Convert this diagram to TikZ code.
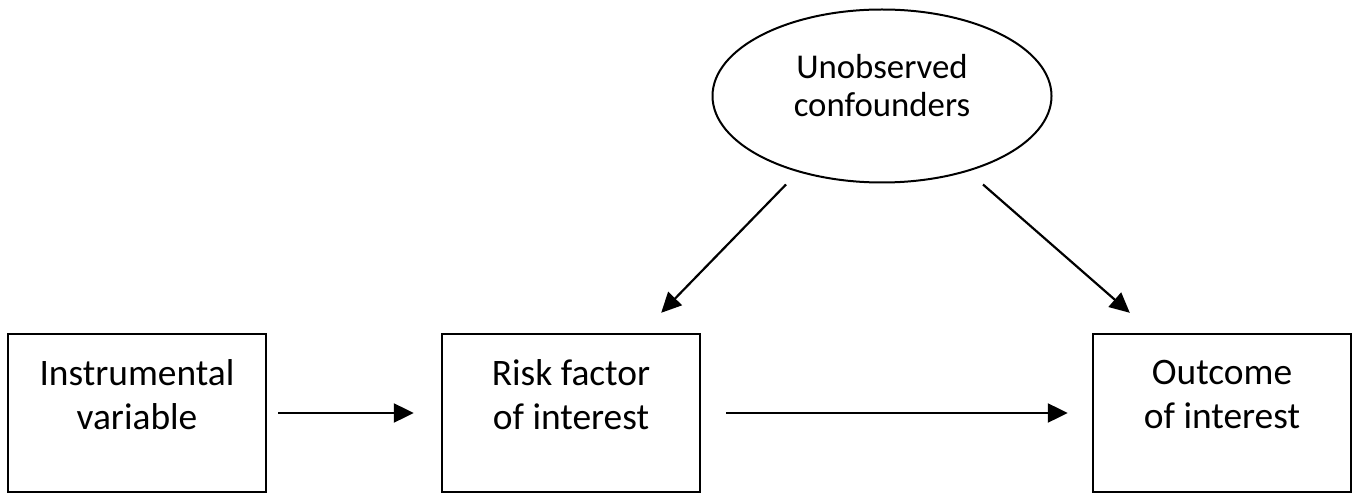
\documentclass[tikz,border=0pt]{standalone}
\usepackage{fontspec}
\setmainfont{Carlito}
\usepackage{tikz}
\usetikzlibrary{positioning,arrows.meta,shapes.geometric,calc}

\begin{document}
\begin{tikzpicture}[x=0.5pt, y=0.5pt,
  caja/.style={draw=black, line width=1.2pt, minimum width=129pt,
               minimum height=79pt, inner sep=0pt},
  texto/.style={font=\fontsize{18.7}{22}\selectfont, align=center,
                text=black, yshift=9pt},
  nube/.style={draw=black, line width=1pt, ellipse, minimum width=169.5pt,
               minimum height=86.5pt, inner sep=0pt},
  textonube/.style={font=\fontsize{17.4}{19}\selectfont, align=center,
                    text=black, yshift=5pt},
  flecha/.style={-{Triangle[length=10pt, width=9.5pt]}, line width=1.1pt}]
  \useasboundingbox (0,0) rectangle (1359,493);
  \node[caja, label={[texto]center:Instrumental\\variable}] (inst) at (137,80) {};
  \node[caja, label={[texto]center:Risk factor\\of interest}] (risk) at (571,80) {};
  \node[caja, label={[texto]center:Outcome\\of interest}] (outc) at (1222,80) {};
  \node[nube, label={[textonube]center:Unobserved\\confounders}] (conf) at (882,397) {};
  \draw[flecha, shorten <=5.5pt, shorten >=13.5pt] (inst) -- (risk);
  \draw[flecha, shorten <=12.5pt, shorten >=12pt] (risk) -- (outc);
  % free ends of the confounder arrows
  \coordinate (cfL) at ($(conf.south)+(-96,-1)$);
  \coordinate (cfR) at ($(conf.south)+(101,-1)$);
  \coordinate (rkT) at ($(risk.north east)+(-40,20)$);
  \coordinate (ocT) at ($(outc.north west)+(38,20)$);
  \draw[flecha] (cfL) -- (rkT);
  \draw[flecha] (cfR) -- (ocT);
\end{tikzpicture}
\end{document}
